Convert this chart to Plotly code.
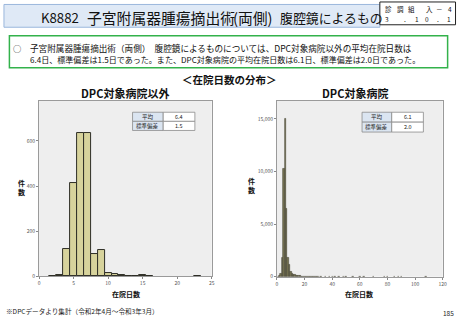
import plotly.graph_objects as go

W, H = 462, 320

# ---------------- data ----------------
days_left = [2, 3, 4, 5, 6, 7, 8, 9, 10, 11, 12, 13, 14, 15, 16, 23]
counts_left = [3, 6, 123, 412, 635, 635, 101, 118, 15, 10, 5, 2, 3, 6, 3, 3]

days_right = [1, 2, 3, 4, 5, 6, 7, 8, 9, 10, 11, 12, 13, 14, 15, 16, 17, 18, 19, 20,
              21, 22, 23, 24, 25, 26, 27, 28, 29, 30, 32, 35, 38, 40, 42, 45, 48, 50,
              55, 60, 63, 70, 78, 80, 85, 88, 90, 108]
counts_right = [20, 80, 300, 1800, 10300, 15000, 6500, 1800, 1100, 500, 300, 200, 140, 100,
                80, 60, 45, 35, 30, 25, 20, 18, 15, 12, 10, 9, 8, 7, 6, 5, 4, 3, 3, 3, 2,
                2, 2, 2, 2, 2, 1, 1, 1, 1, 1, 1, 1, 1]

stats_labels = ["平均", "標準偏差"]
stats_left = ["6.4", "1.5"]
stats_right = ["6.1", "2.0"]

x_ticks_left = [0, 5, 10, 15, 20, 25]
y_ticks_left = [0, 200, 400, 600]
x_ticks_right = [0, 20, 40, 60, 80, 100, 120]
y_ticks_right = [0, 5000, 10000, 15000]
y_ticktext_right = ["0", "5,000", "10,000", "15,000"]

title_parts = ["K8882", "子宮附属器腫瘍摘出術", "(両側)", "腹腔鏡によるもの"]
line1 = "子宮附属器腫瘍摘出術（両側）　腹腔鏡によるものについては、DPC対象病院以外の平均在院日数は"
line2 = "6.4日、標準偏差は1.5日であった。また、DPC対象病院の平均在院日数は6.1日、標準偏差は2.0日であった。"
section_title = "＜在院日数の分布＞"
sub_left = "DPC対象病院以外"
sub_right = "DPC対象病院"
xlabel = "在院日数"
ylabel = "件<br>数"
footer = "※DPCデータより集計（令和2年4月～令和3年3月）"
page_no = "185"
code_row1 = ["診", "調", "組", "入", "－", "4"]
code_row2 = ["3", ".", "1", "0", ".", "1"]

FONT = "Noto Sans CJK JP"


def px(x):
    return x / W


def py(y):
    return 1 - y / H


fig = go.Figure()
fig.add_trace(go.Bar(x=days_left, y=counts_left, width=1, xaxis="x", yaxis="y",
                     marker=dict(color="#d7d39c", line=dict(color="#2e2e26", width=1))))
fig.add_trace(go.Bar(x=days_right, y=counts_right, width=1, xaxis="x2", yaxis="y2",
                     marker=dict(color="#767352", line=dict(color="#4a4838", width=0.6))))

axis_common = dict(showgrid=False, zeroline=False, showline=True, mirror=True,
                   linecolor="#9a9a9a", linewidth=1, ticks="outside", ticklen=2,
                   tickcolor="#888", tickfont=dict(size=5, color="#555", family=FONT),
                   fixedrange=True)

shapes = []
annotations = []


def txt(x, y, text, size, anchor="center", color="#111", bold=False):
    if bold:
        text = "<b>" + text + "</b>"
    annotations.append(dict(xref="paper", yref="paper", x=px(x), y=py(y), xanchor=anchor,
                            yanchor="middle", text=text, showarrow=False,
                            font=dict(size=size, color=color, family=FONT)))


# title bar
shapes.append(dict(type="rect", xref="paper", yref="paper", x0=px(3), x1=px(383),
                   y0=py(27.5), y1=py(4.5), fillcolor="#dfe9f6",
                   line=dict(color="#9ab6dc", width=1), layer="below"))
txt(38, 18, title_parts[0], 13.2, anchor="left")
txt(85, 18, title_parts[1], 14.8, anchor="left")
txt(233, 18, title_parts[2], 14.8, anchor="left")
txt(280, 18, title_parts[3], 12.9, anchor="left")

# code box
shapes.append(dict(type="rect", xref="paper", yref="paper", x0=px(383), x1=px(459.5),
                   y0=py(25), y1=py(2), fillcolor="white",
                   line=dict(color="#222", width=1), layer="below"))
row1_x = [391.5, 403.5, 415, 433, 443.5, 454]
row2_x = [390, 408, 421, 431, 442, 453]
for ch, xx in zip(code_row1, row1_x):
    txt(xx, 8.8, ch, 6.5)
for ch, xx in zip(code_row2, row2_x):
    txt(xx, 19.3, ch, 6.5)

# green summary box
shapes.append(dict(type="rect", xref="paper", yref="paper", x0=px(8.5), x1=px(451.5),
                   y0=py(68.5), y1=py(36), fillcolor="white",
                   line=dict(color="#33b24b", width=1.5), layer="below"))
txt(16.5, 48.3, "○", 8.3)
txt(27, 48.3, line1, 8.6, anchor="left")
txt(27, 60.2, line2, 8.05, anchor="left")

txt(231, 80, section_title, 10.5, bold=True)
txt(125, 93.5, sub_left, 11, bold=True)
txt(358, 93.5, sub_right, 11, bold=True)

for xx, yy in [(126, 297), (362, 297)]:
    txt(xx, yy, xlabel, 7, bold=True)
for xx, yy in [(20.5, 189), (253.5, 187)]:
    txt(xx, yy, ylabel, 7, bold=True)


# stats tables
def table(x0, xm, x1, y0, ym, y1, values):
    for (a, b) in [(y0, ym), (ym, y1)]:
        shapes.append(dict(type="rect", xref="paper", yref="paper", x0=px(x0), x1=px(xm),
                           y0=py(b), y1=py(a), fillcolor="#dbe5f1",
                           line=dict(color="#8a8a8a", width=0.8), layer="above"))
        shapes.append(dict(type="rect", xref="paper", yref="paper", x0=px(xm), x1=px(x1),
                           y0=py(b), y1=py(a), fillcolor="white",
                           line=dict(color="#8a8a8a", width=0.8), layer="above"))
    for i, (lab, val) in enumerate(zip(stats_labels, values)):
        yc = (y0 + ym) / 2 if i == 0 else (ym + y1) / 2
        txt((x0 + xm) / 2, yc, lab, 5.5, color="#222")
        txt((xm + x1) / 2, yc, val, 5.5, color="#222")


table(133, 164, 196, 113.3, 122.5, 131.7, stats_left)
table(365, 395, 427, 113.3, 123.3, 133.3, stats_right)

txt(3, 314, footer, 6.6, anchor="left", color="#222")
txt(452, 315.5, page_no, 6.5, color="#222")

fig.update_layout(
    width=W, height=H, margin=dict(l=0, r=0, t=0, b=0),
    paper_bgcolor="white", plot_bgcolor="#eeeeee",
    showlegend=False, bargap=0,
    font=dict(family=FONT),
    xaxis=dict(domain=[px(38.5), px(213)], anchor="y", range=[0, 25],
               tickvals=x_ticks_left, **axis_common),
    yaxis=dict(domain=[py(279), py(102)], anchor="x", range=[0, 777],
               tickvals=y_ticks_left, **axis_common),
    xaxis2=dict(domain=[px(279), px(446.5)], anchor="y2", range=[0, 120],
                tickvals=x_ticks_right, **axis_common),
    yaxis2=dict(domain=[py(279.3), py(101.7)], anchor="x2", range=[0, 16720],
                tickvals=y_ticks_right, ticktext=y_ticktext_right, **axis_common),
    shapes=shapes, annotations=annotations,
)

fig.write_html("out.html")
